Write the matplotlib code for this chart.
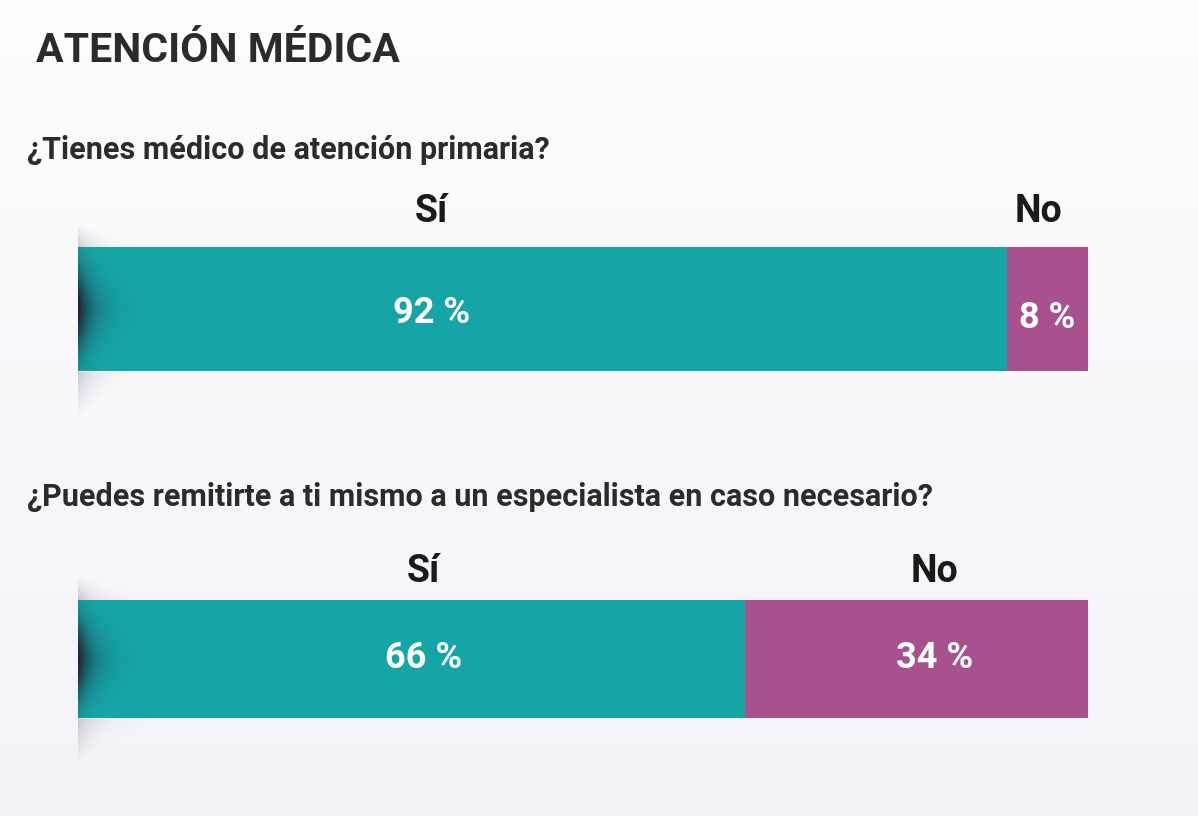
import numpy as np
import matplotlib
matplotlib.use("Agg")
import matplotlib.pyplot as plt

# ── Data ──────────────────────────────────────────────────────────────────────
title = "ATENCIÓN MÉDICA"
questions = [
    "¿Tienes médico de atención primaria?",
    "¿Puedes remitirte a ti mismo a un especialista en caso necesario?",
]
answers = ["Sí", "No"]
si_pct = [92, 66]
no_pct = [8, 34]

# ── Layout (pixels) ───────────────────────────────────────────────────────────
W, H = 1198, 816
TEAL, PURPLE = "#16a5a7", "#a9518f"
TXT = "#2b2b2b"
bar_x0, bar_x1 = 78, 1088
bar_rows = [(247, 371), (600, 718)]     # top, bottom in px
q_y = [150, 497]
ans_y = [212, 571]                      # answer label centres (px)
pct_y = [(313, 318), (658, 658)]        # % label centres (px)
# label centres in % of bar width
si_lab_x = [35.0, 34.2]
no_lab_x = [(95.1, 96.0), (84.8, 84.8)]

plt.rcParams["font.family"] = ["Roboto", "DejaVu Sans"]

fig = plt.figure(figsize=(W / 100, H / 100), dpi=100)

# background gradient
bg = fig.add_axes([0, 0, 1, 1], zorder=0)
top = np.array([0.995, 0.995, 1.0])
bot = np.array([0.949, 0.953, 0.973])
t = np.linspace(0, 1, 200)[:, None]
grad = top * (1 - t) + bot * t
bg.imshow(grad[:, None, :].repeat(2, axis=1), aspect="auto",
          extent=[0, W, H, 0])
bg.set_xlim(0, W); bg.set_ylim(H, 0)
bg.axis("off")

bg.text(36, 51, title, fontsize=29.5, fontweight="bold", color=TXT,
        va="center", ha="left")

for i, (ytop, ybot) in enumerate(bar_rows):
    bg.text(27, q_y[i], questions[i], fontsize=22, fontweight="bold",
            color=TXT, va="center", ha="left")

    ax = fig.add_axes([bar_x0 / W, 1 - ybot / H,
                       (bar_x1 - bar_x0) / W, (ybot - ytop) / H], zorder=2)
    ax.barh(0, si_pct[i], height=1.0, color=TEAL, left=0)
    ax.barh(0, no_pct[i], height=1.0, color=PURPLE, left=si_pct[i])
    ax.set_xlim(0, 100); ax.set_ylim(-0.5, 0.5)
    ax.axis("off")

    hpx = ybot - ytop
    cy = (ytop + ybot) / 2

    def to_ax(ypx):
        return (cy - ypx) / hpx

    ax.text(si_lab_x[i], to_ax(pct_y[i][0]), f"{si_pct[i]} %", color="white",
            fontsize=26, fontweight="bold", ha="center", va="center")
    ax.text(no_lab_x[i][1], to_ax(pct_y[i][1]), f"{no_pct[i]} %",
            color="white", fontsize=26, fontweight="bold",
            ha="center", va="center")
    ax.text(si_lab_x[i], to_ax(ans_y[i]), answers[0], color="#1a1a1a",
            fontsize=27, fontweight="bold", ha="center", va="center",
            clip_on=False)
    ax.text(no_lab_x[i][0], to_ax(ans_y[i]), answers[1], color="#1a1a1a",
            fontsize=27, fontweight="bold", ha="center", va="center",
            clip_on=False)

    # left-edge shadow overlay
    sh = fig.add_axes([0, 0, 1, 1], zorder=3)
    sh.set_xlim(0, W); sh.set_ylim(H, 0); sh.axis("off")
    ext_t, ext_b, wpx = 25, 45, 90
    xs = np.arange(0, wpx)
    ys = np.arange(ytop - ext_t, ybot + ext_b)
    X, Y = np.meshgrid(xs, ys)
    inside = (Y >= ytop) & (Y <= ybot)
    d_in = np.abs(Y - cy) / (hpx / 2)
    a_in = np.exp(-X / (15 * (1 - 0.45 * d_in))) * np.exp(-(d_in / 0.7) ** 2) * 0.95
    d_up = np.clip((ytop - Y) / ext_t, 0, 1)
    d_dn = np.clip((Y - ybot) / ext_b, 0, 1)
    d_out = np.where(Y < ytop, d_up, d_dn)
    a_out = 0.22 * (1 - d_out) * np.exp(-X / (18 * (1 - 0.8 * d_out)))
    a = np.where(inside, a_in, a_out)
    rgba = np.zeros(a.shape + (4,))
    rgba[..., 0] = 0.12; rgba[..., 1] = 0.10; rgba[..., 2] = 0.16
    rgba[..., 3] = np.clip(a, 0, 1)
    sh.imshow(rgba, aspect="auto", interpolation="bilinear",
              extent=[bar_x0, bar_x0 + wpx, ybot + ext_b, ytop - ext_t])

fig.savefig("out.png", dpi=100)
